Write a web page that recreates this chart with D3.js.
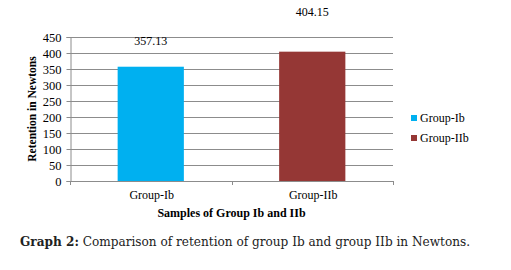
<!DOCTYPE html>
<html>
<head>
<meta charset="utf-8">
<script src="https://cdn.jsdelivr.net/npm/d3@7"></script>
<style>
  body { margin: 0; background: #fff; }
  svg { display: block; }
  svg text { font-family: "Liberation Serif", "Times New Roman", serif; }
</style>
</head>
<body>
<div id="chart"></div>
<script>
// Data
const groups = ["Group-Ib", "Group-IIb"];
const retention = [357.13, 404.15];
const yTicks = [0, 50, 100, 150, 200, 250, 300, 350, 400, 450];
const colors = ["#00b0f0", "#953735"];

function buildBarChart() {
    const W = 511, H = 270;
    const plot = { left: 70, right: 393, top: 37, bottom: 181 };

    const svg = d3.select("#chart")
        .append("svg")
        .attr("width", W)
        .attr("height", H);

    const x = d3.scaleBand()
        .domain(groups)
        .range([plot.left, plot.right])
        .paddingInner(0.59)
        .paddingOuter(0.295);

    const xBorders = d3.scaleBand()
        .domain(groups)
        .range([plot.left, plot.right]);

    const y = d3.scaleLinear()
        .domain([0, 450])
        .range([plot.bottom, plot.top]);

    // gridlines
    svg.append("g")
        .selectAll("line")
        .data(yTicks.filter(t => t > 0))
        .join("line")
        .attr("x1", plot.left)
        .attr("x2", plot.right)
        .attr("y1", d => y(d) + 0.5)
        .attr("y2", d => y(d) + 0.5)
        .attr("stroke", "#8c8c8c")
        .attr("stroke-width", 1);

    // bars
    svg.append("g")
        .selectAll("rect")
        .data(groups)
        .join("rect")
        .attr("x", d => x(d))
        .attr("width", x.bandwidth())
        .attr("y", (d, i) => y(retention[i]))
        .attr("height", (d, i) => y(0) - y(retention[i]) + 1)
        .attr("fill", (d, i) => colors[i]);

    // y axis
    const yAxis = svg.append("g")
        .attr("transform", `translate(${plot.left + 0.5},0)`)
        .call(d3.axisLeft(y).tickValues(yTicks).tickSize(4).tickPadding(5))
        .attr("font-family", "Liberation Serif")
        .attr("font-size", 12.5);
    yAxis.select(".domain").attr("stroke", "#8c8c8c");
    yAxis.selectAll(".tick line").attr("stroke", "#8c8c8c");
    yAxis.selectAll("text").attr("fill", "#000");

    // x axis baseline and category separators
    svg.append("line")
        .attr("x1", plot.left)
        .attr("x2", plot.right + 1)
        .attr("y1", y(0) + 0.5)
        .attr("y2", y(0) + 0.5)
        .attr("stroke", "#8c8c8c");

    const borders = groups.map(g => xBorders(g)).concat([plot.right]);
    svg.append("g")
        .selectAll("line")
        .data(borders)
        .join("line")
        .attr("x1", d => Math.round(d) + 0.5)
        .attr("x2", d => Math.round(d) + 0.5)
        .attr("y1", y(0))
        .attr("y2", y(0) + 4)
        .attr("stroke", "#8c8c8c");

    svg.append("g")
        .selectAll("text")
        .data(groups)
        .join("text")
        .attr("x", d => x(d) + x.bandwidth() / 2 + 1)
        .attr("y", y(0) + 18)
        .attr("text-anchor", "middle")
        .style("font-size", "12px")
        .text(d => d);

    // value labels (Excel placed them at different heights)
    const labelLift = [22, 36];
    svg.append("g")
        .selectAll("text")
        .data(groups)
        .join("text")
        .attr("x", d => x(d) + x.bandwidth() / 2)
        .attr("y", (d, i) => y(retention[i]) - labelLift[i])
        .attr("text-anchor", "middle")
        .style("font-size", "12px")
        .text((d, i) => retention[i].toFixed(2));

    // axis titles
    svg.append("text")
        .attr("x", (plot.left + plot.right) / 2)
        .attr("y", 217)
        .attr("text-anchor", "middle")
        .style("font-size", "12px")
        .style("font-weight", "bold")
        .text("Samples of Group Ib and IIb");

    svg.append("text")
        .attr("transform", `translate(36, ${(plot.top + plot.bottom) / 2}) rotate(-90)`)
        .attr("text-anchor", "middle")
        .style("font-size", "11.5px")
        .style("font-weight", "bold")
        .text("Retention in Newtons");

    // legend
    const legend = svg.append("g")
        .attr("transform", "translate(411, 118)");
    legend.selectAll("rect")
        .data(groups)
        .join("rect")
        .attr("x", 0)
        .attr("y", (d, i) => i * 20 - 3)
        .attr("width", 6)
        .attr("height", 6)
        .attr("fill", (d, i) => colors[i]);
    legend.selectAll("text")
        .data(groups)
        .join("text")
        .attr("x", 9)
        .attr("y", (d, i) => i * 20 + 4)
        .style("font-size", "12px")
        .text(d => d);

    // caption
    const caption = svg.append("text")
        .attr("x", 20)
        .attr("y", 246)
        .style("font-family", "'DejaVu Serif', serif")
        .style("font-size", "12.1px")
        .attr("fill", "#222");
    caption.append("tspan").style("font-weight", "bold").text("Graph 2:");
    caption.append("tspan").text(" Comparison of retention of group Ib and group IIb in Newtons.");
}

buildBarChart();
</script>
</body>
</html>
